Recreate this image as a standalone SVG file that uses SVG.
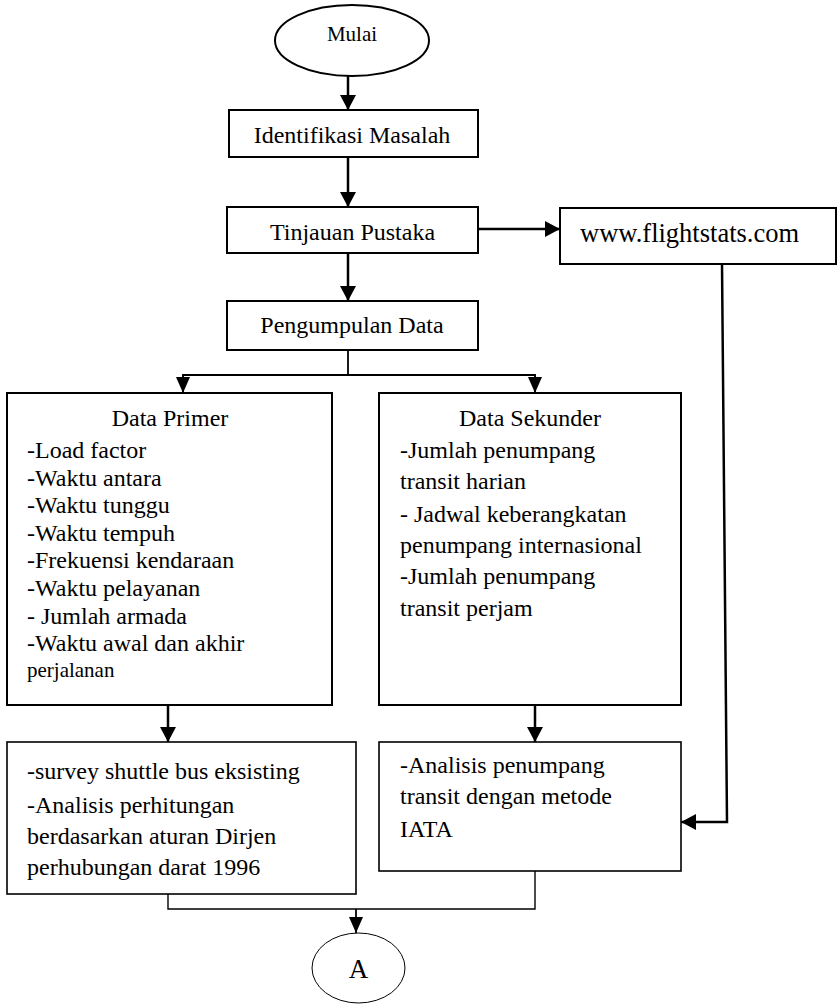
<svg xmlns="http://www.w3.org/2000/svg" width="839" height="1005" viewBox="0 0 839 1005">
<style>
.box{fill:#fff;stroke:#000;stroke-width:2}
.box2{fill:#fff;stroke:#000;stroke-width:1.6}
.t{font-family:"Liberation Serif","Times New Roman",serif;font-size:24px;fill:#000}
.c{text-anchor:middle}
.ln{fill:none;stroke:#000;stroke-width:2.5}
.ln2{fill:none;stroke:#000;stroke-width:1.8}
.ln3{fill:none;stroke:#000;stroke-width:1.4}
</style>
<defs>
<marker id="ah" markerUnits="userSpaceOnUse" markerWidth="16" markerHeight="16" refX="15" refY="8" orient="auto">
<path d="M0,0 L15,8 L0,16 z" fill="#000"/>
</marker>
<marker id="ahs" markerUnits="userSpaceOnUse" markerWidth="16" markerHeight="16" refX="16" refY="7" orient="auto">
<path d="M0,0 L16,7 L0,14 z" fill="#000"/>
</marker>
</defs>

<g id="connectors">
<path class="ln" d="M348,76 V110" marker-end="url(#ah)"/>
<path class="ln" d="M348,157 V207" marker-end="url(#ah)"/>
<path class="ln" d="M348,253 V301" marker-end="url(#ah)"/>
<path class="ln" d="M478,229 H560" marker-end="url(#ah)"/>
<path class="ln2" d="M348,350 V375"/>
<path class="ln2" d="M183,393 V375 H535 V393"/>
<path class="ln2" d="M183,375 V393" marker-end="url(#ahs)"/>
<path class="ln2" d="M535,375 V393" marker-end="url(#ahs)"/>
<path class="ln" d="M168,705 V742" marker-end="url(#ah)"/>
<path class="ln" d="M535,705 V742" marker-end="url(#ah)"/>
<path class="ln" d="M722,264 L727,822 H681" marker-end="url(#ah)"/>
<path class="ln3" d="M168,894 V909 H535 V871"/>
<path class="ln2" d="M356,909 V933" marker-end="url(#ahs)"/>
</g>

<g id="mulai">
<ellipse cx="352" cy="40.5" rx="77" ry="35.5" fill="#fff" stroke="#000" stroke-width="2"/>
<text class="t c" x="352" y="41" style="font-size:21px">Mulai</text>
</g>

<g id="identifikasi">
<rect class="box" x="229" y="110" width="249" height="47"/>
<text class="t c" x="352" y="143">Identifikasi Masalah</text>
</g>

<g id="tinjauan">
<rect class="box" x="227" y="207" width="251" height="46"/>
<text class="t c" x="352.5" y="240">Tinjauan Pustaka</text>
</g>

<g id="flightstats">
<rect class="box" x="560" y="208" width="276" height="56"/>
<text class="t" x="580" y="242" style="font-size:26.5px">www.flightstats.com</text>
</g>

<g id="pengumpulan">
<rect class="box" x="227" y="301" width="251" height="49"/>
<text class="t c" x="352" y="333">Pengumpulan Data</text>
</g>

<g id="data-primer">
<rect class="box" x="7" y="393" width="325" height="312"/>
<text class="t c" x="170" y="426">Data Primer</text>
<text class="t" x="27" y="458">-Load factor</text>
<text class="t" x="27" y="486">-Waktu antara</text>
<text class="t" x="27" y="513">-Waktu tunggu</text>
<text class="t" x="27" y="541">-Waktu tempuh</text>
<text class="t" x="27" y="568">-Frekuensi kendaraan</text>
<text class="t" x="27" y="596">-Waktu pelayanan</text>
<text class="t" x="27" y="624">- Jumlah armada</text>
<text class="t" x="27" y="651">-Waktu awal dan akhir</text>
<text class="t" x="27" y="677" style="font-size:21px">perjalanan</text>
</g>

<g id="data-sekunder">
<rect class="box" x="379" y="393" width="302" height="312"/>
<text class="t c" x="530" y="426">Data Sekunder</text>
<text class="t" x="400" y="458">-Jumlah penumpang</text>
<text class="t" x="400" y="489">transit harian</text>
<text class="t" x="400" y="522">- Jadwal keberangkatan</text>
<text class="t" x="400" y="553">penumpang internasional</text>
<text class="t" x="400" y="584">-Jumlah penumpang</text>
<text class="t" x="400" y="616">transit perjam</text>
</g>

<g id="analisis-primer">
<rect class="box2" x="7" y="742" width="349" height="152"/>
<text class="t" x="27" y="779">-survey shuttle bus eksisting</text>
<text class="t" x="27" y="813">-Analisis perhitungan</text>
<text class="t" x="27" y="844">berdasarkan aturan Dirjen</text>
<text class="t" x="27" y="875">perhubungan darat 1996</text>
</g>

<g id="analisis-sekunder">
<rect class="box2" x="379" y="742" width="302" height="129"/>
<text class="t" x="400" y="773">-Analisis penumpang</text>
<text class="t" x="400" y="804">transit dengan metode</text>
<text class="t" x="400" y="837">IATA</text>
</g>

<g id="a">
<ellipse cx="358.5" cy="968" rx="46.5" ry="35" fill="#fff" stroke="#000" stroke-width="1"/>
<text class="t c" x="358.5" y="978" style="font-size:27px">A</text>
</g>
</svg>
